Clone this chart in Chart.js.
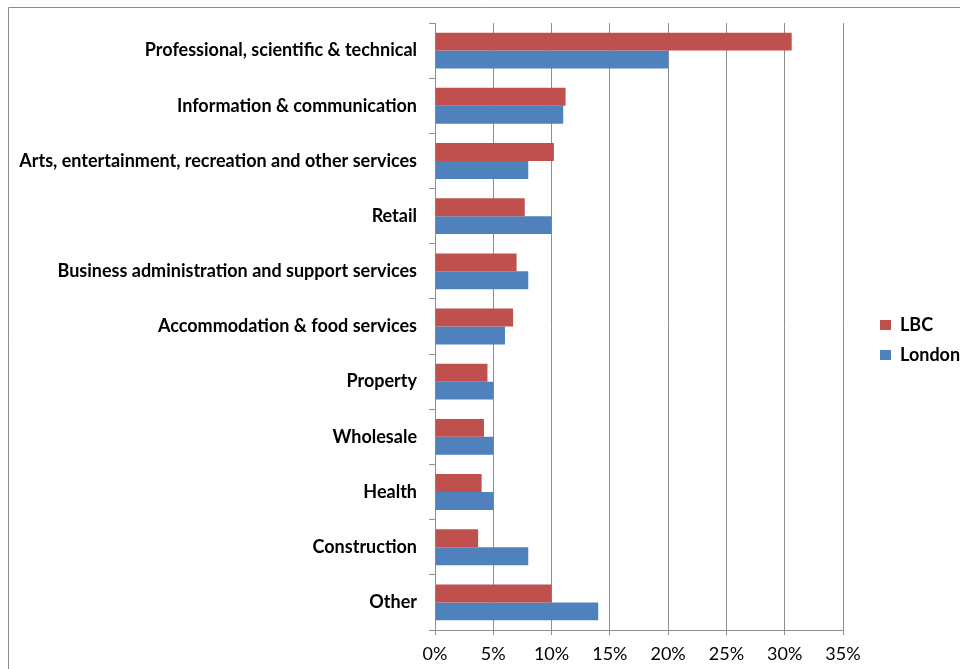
<!DOCTYPE html>
<html>
<head>
<meta charset="utf-8">
<script src="https://cdn.jsdelivr.net/npm/chart.js@4/dist/chart.umd.min.js"></script>
<style>
    html, body { margin: 0; padding: 0; background: #fff; }
    #wrap { position: relative; width: 960px; height: 669px; }
</style>
</head>
<body>
<div id="wrap"><canvas id="sectorChart"></canvas></div>
<script>
// Sector share, LBC vs London (percent)
const categories = [
    'Professional, scientific & technical',
    'Information & communication',
    'Arts, entertainment, recreation and other services',
    'Retail',
    'Business administration and support services',
    'Accommodation & food services',
    'Property',
    'Wholesale',
    'Health',
    'Construction',
    'Other'
];
const lbcValues = [30.6, 11.2, 10.2, 7.7, 7.0, 6.7, 4.5, 4.2, 4.0, 3.7, 10.0];
const londonValues = [20.0, 11.0, 8.0, 10.0, 8.0, 6.0, 5.0, 5.0, 5.0, 8.0, 14.0];
const xTickMin = 0;
const xTickMax = 35;
const xTickStep = 5;

const fontFamily = 'Lato, "Open Sans", sans-serif';
const axisGrey = '#8e8e8e';

// Outer chart frame (only top and left edges fall inside the picture)
const framePlugin = {
    id: 'frame',
    beforeDraw: function(chart) {
        const ctx = chart.ctx;
        ctx.save();
        ctx.strokeStyle = '#8c8c8c';
        ctx.lineWidth = 1;
        ctx.beginPath();
        ctx.moveTo(8.5, chart.height);
        ctx.lineTo(8.5, 7.5);
        ctx.lineTo(chart.width, 7.5);
        ctx.stroke();
        ctx.restore();
    }
};

document.addEventListener('DOMContentLoaded', function() {
    const canvas = document.getElementById('sectorChart');
    new Chart(canvas, {
        type: 'bar',
        data: {
            labels: categories,
            datasets: [{
                label: 'LBC',
                data: lbcValues,
                backgroundColor: '#C0504D',
                borderWidth: 0
            }, {
                label: 'London',
                data: londonValues,
                backgroundColor: '#4F81BD',
                borderWidth: 0
            }]
        },
        options: {
            indexAxis: 'y',
            responsive: true,
            maintainAspectRatio: false,
            animation: false,
            barPercentage: 1,
            categoryPercentage: 0.65,
            layout: {
                padding: { top: 11, left: 10, right: 0, bottom: 0 }
            },
            plugins: {
                legend: {
                    position: 'right',
                    maxWidth: 92,
                    labels: {
                        boxWidth: 11,
                        boxHeight: 10,
                        padding: 12,
                        color: '#000',
                        font: { family: fontFamily, size: 18, weight: 'bold' }
                    }
                },
                tooltip: { enabled: false }
            },
            scales: {
                x: {
                    min: xTickMin,
                    max: xTickMax,
                    ticks: {
                        stepSize: xTickStep,
                        color: '#000',
                        padding: 8,
                        font: { family: fontFamily, size: 18 },
                        callback: function(v) { return v + '%'; }
                    },
                    grid: {
                        color: axisGrey,
                        tickColor: axisGrey,
                        tickLength: 5
                    },
                    border: { color: axisGrey },
                    afterFit: function(scale) {
                        scale.height = 39;
                    }
                },
                // empty top axis, pushes the plot down without moving the legend
                gapTop: {
                    axis: 'x',
                    type: 'linear',
                    position: 'top',
                    ticks: { display: false },
                    grid: { display: false },
                    border: { display: false },
                    afterFit: function(scale) {
                        scale.height = 12;
                    }
                },
                y: {
                    ticks: {
                        color: '#000',
                        padding: 12,
                        font: { family: fontFamily, size: 18, weight: 'bold' }
                    },
                    grid: {
                        offset: true,
                        drawOnChartArea: false,
                        tickColor: axisGrey,
                        tickLength: 6
                    },
                    border: { color: axisGrey },
                    afterFit: function(scale) {
                        scale.width = 425;
                    }
                },
                // empty right-hand axis, only keeps a gap before the legend
                gap: {
                    axis: 'y',
                    type: 'category',
                    position: 'right',
                    ticks: { display: false },
                    grid: { display: false },
                    border: { display: false },
                    afterFit: function(scale) {
                        scale.width = 25;
                    }
                }
            }
        },
        plugins: [framePlugin]
    });
});
</script>
</body>
</html>
